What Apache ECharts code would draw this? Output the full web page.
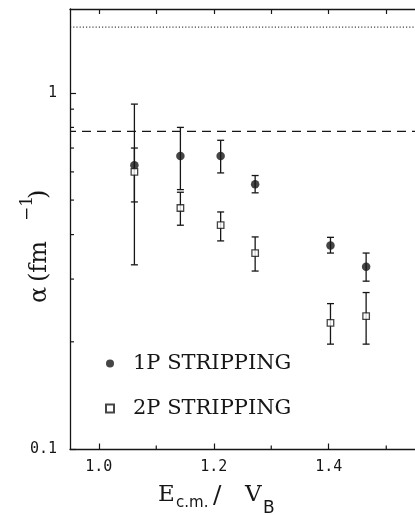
<!DOCTYPE html>
<html>
<head>
<meta charset="utf-8">
<script src="https://cdn.jsdelivr.net/npm/echarts@6/dist/echarts.min.js"></script>
<style>html,body{margin:0;padding:0;background:#fff;}#c{width:415px;height:515px;}</style>
</head>
<body>
<div id="c"></div>
<script>
// ---- data ----
const energies = [1.062, 1.142, 1.212, 1.272, 1.403, 1.465];
const alpha1P = [0.626, 0.665, 0.665, 0.554, 0.373, 0.325];
const alpha1PLow = [0.494, 0.535, 0.596, 0.524, 0.355, 0.296];
const alpha1PHigh = [0.700, 0.800, 0.736, 0.586, 0.393, 0.355];
const alpha2P = [0.600, 0.475, 0.425, 0.355, 0.226, 0.236];
const alpha2PLow = [0.329, 0.425, 0.384, 0.316, 0.197, 0.197];
const alpha2PHigh = [0.930, 0.526, 0.463, 0.394, 0.256, 0.275];
const dottedLevel = 1.53;
const dashedLevel = 0.78;
const xRange = [0.95, 1.55];
const yRange = [0.1, 1.72];
const xLabelValues = [1.0, 1.2, 1.4];
const xMinorTicks = [1.1, 1.3, 1.5];
const xTopTicks = [1.0, 1.1, 1.2, 1.3, 1.4, 1.5];
const yLabelValues = [0.1, 1];
const yMinorTicks = [0.2, 0.3, 0.4, 0.5, 0.6, 0.7, 0.8, 0.9];
const seriesNames = ['1P STRIPPING', '2P STRIPPING'];

const ink = '#161616';
const chart = echarts.init(document.getElementById('c'), null, {renderer: 'canvas'});

function errData(lo, hi) { return energies.map((x, i) => [x, lo[i], hi[i]]); }
function errRender(params, api) {
  const x = api.value(0);
  const p1 = api.coord([x, api.value(1)]);
  const p2 = api.coord([x, api.value(2)]);
  const cw = 3.5;
  const st = {stroke: ink, lineWidth: 1.3};
  return {type: 'group', children: [
    {type: 'line', shape: {x1: p1[0], y1: p1[1], x2: p2[0], y2: p2[1]}, style: st},
    {type: 'line', shape: {x1: p1[0] - cw, y1: p1[1], x2: p1[0] + cw, y2: p1[1]}, style: st},
    {type: 'line', shape: {x1: p2[0] - cw, y1: p2[1], x2: p2[0] + cw, y2: p2[1]}, style: st}
  ]};
}
function tickRender(kind) {
  return function (params, api) {
    const v = api.value(0);
    const st = {stroke: ink, lineWidth: 1.2};
    if (kind === 'y') {
      const p = api.coord([xRange[0], v]);
      return {type: 'line', shape: {x1: p[0], y1: p[1], x2: p[0] + 4, y2: p[1]}, style: st};
    }
    const p = api.coord([v, yRange[0]]);
    return {type: 'line', shape: {x1: p[0], y1: p[1], x2: p[0], y2: p[1] - 3.5}, style: st};
  };
}

const option = {
  animation: false,
  backgroundColor: '#fff',
  grid: {left: 70, top: 9, width: 346, height: 440},
  xAxis: [{
    type: 'value', min: xRange[0], max: xRange[1], position: 'bottom',
    axisLine: {show: true, lineStyle: {color: ink, width: 1.3}},
    axisTick: {show: true, inside: true, length: 5.5, customValues: xLabelValues, lineStyle: {color: ink, width: 1.2}},
    axisLabel: {customValues: xLabelValues, margin: 11, color: ink, fontFamily: '"DejaVu Sans Mono"', fontSize: 15,
      formatter: v => v.toFixed(1)},
    splitLine: {show: false}
  }, {
    type: 'value', min: xRange[0], max: xRange[1], position: 'top',
    axisLine: {show: true, lineStyle: {color: ink, width: 1.3}},
    axisTick: {show: true, inside: true, length: 5, customValues: xTopTicks, lineStyle: {color: ink, width: 1.2}},
    axisLabel: {show: false},
    splitLine: {show: false}
  }],
  yAxis: [{
    type: 'log', logBase: 10, min: yRange[0], max: yRange[1],
    axisLine: {show: true, lineStyle: {color: ink, width: 1.3}},
    axisTick: {show: true, inside: true, length: 6, customValues: yLabelValues, lineStyle: {color: ink, width: 1.2}},
    axisLabel: {customValues: yLabelValues, margin: 13, color: ink, fontFamily: '"DejaVu Sans Mono"', fontSize: 15,
      formatter: v => String(parseFloat(Number(v).toPrecision(6)))},
    splitLine: {show: false}
  }],
  legend: {
    data: seriesNames,
    orient: 'vertical', left: 100, top: 348,
    itemWidth: 8, itemHeight: 8, itemGap: 24,
    textStyle: {fontFamily: '"DejaVu Serif"', fontSize: 21, color: ink, padding: [0, 0, 0, 14]}
  },
  series: [
    {type: 'line', data: [[xRange[0], dottedLevel], [xRange[1], dottedLevel]], symbol: 'none', silent: true,
      lineStyle: {color: ink, width: 1, type: [1.2, 2]}, z: 1},
    {type: 'line', data: [[xRange[0], dashedLevel], [xRange[1], dashedLevel]], symbol: 'none', silent: true,
      lineStyle: {color: ink, width: 1.3, type: [9, 6], dashOffset: 3}, z: 1},
    {type: 'custom', name: 'err1', data: errData(alpha1PLow, alpha1PHigh), renderItem: errRender, z: 2, silent: true},
    {type: 'custom', name: 'err2', data: errData(alpha2PLow, alpha2PHigh), renderItem: errRender, z: 2, silent: true},
    {type: 'custom', data: yMinorTicks.map(v => [v]), renderItem: tickRender('y'), z: 2, silent: true},
    {type: 'custom', data: xMinorTicks.map(v => [v]), renderItem: tickRender('x'), z: 2, silent: true},
    {type: 'scatter', name: seriesNames[0], data: energies.map((x, i) => [x, alpha1P[i]]),
      symbol: 'circle', symbolSize: 8.5, itemStyle: {color: ink}, z: 5},
    {type: 'scatter', name: seriesNames[1], data: energies.map((x, i) => [x, alpha2P[i]]),
      symbol: 'rect', symbolSize: 6.5, itemStyle: {color: '#fff', borderColor: ink, borderWidth: 1.3}, z: 5}
  ],
  graphic: [
    {type: 'group', x: 40, y: 303, rotation: Math.PI / 2, children: [
      {type: 'text', x: 0, y: 0, style: {text: 'α', font: '24px "DejaVu Serif"', fill: ink, align: 'left', verticalAlign: 'middle'}},
      {type: 'text', x: 21, y: 0, style: {text: '(fm', font: '24px "DejaVu Serif"', fill: ink, align: 'left', verticalAlign: 'middle'}},
      {type: 'text', x: 82, y: -12, style: {text: '−1', font: '17px "DejaVu Serif"', fill: ink, align: 'left', verticalAlign: 'middle'}},
      {type: 'text', x: 104, y: 0, style: {text: ')', font: '24px "DejaVu Serif"', fill: ink, align: 'left', verticalAlign: 'middle'}}
    ]},
    {type: 'text', x: 158, y: 495, style: {text: 'E', font: '23px "DejaVu Serif"', fill: ink, align: 'left', verticalAlign: 'middle'}},
    {type: 'text', x: 176, y: 503, style: {text: 'c.m.', font: '15px "DejaVu Sans"', fill: ink, align: 'left', verticalAlign: 'middle'}},
    {type: 'text', x: 213, y: 496, style: {text: '/', font: '25px "DejaVu Serif"', fill: ink, align: 'left', verticalAlign: 'middle'}},
    {type: 'text', x: 245, y: 495, style: {text: 'V', font: '23px "DejaVu Serif"', fill: ink, align: 'left', verticalAlign: 'middle'}},
    {type: 'text', x: 263, y: 509, style: {text: 'B', font: '17px "DejaVu Sans"', fill: ink, align: 'left', verticalAlign: 'middle'}}
  ]
};
chart.setOption(option);
</script>
</body>
</html>
